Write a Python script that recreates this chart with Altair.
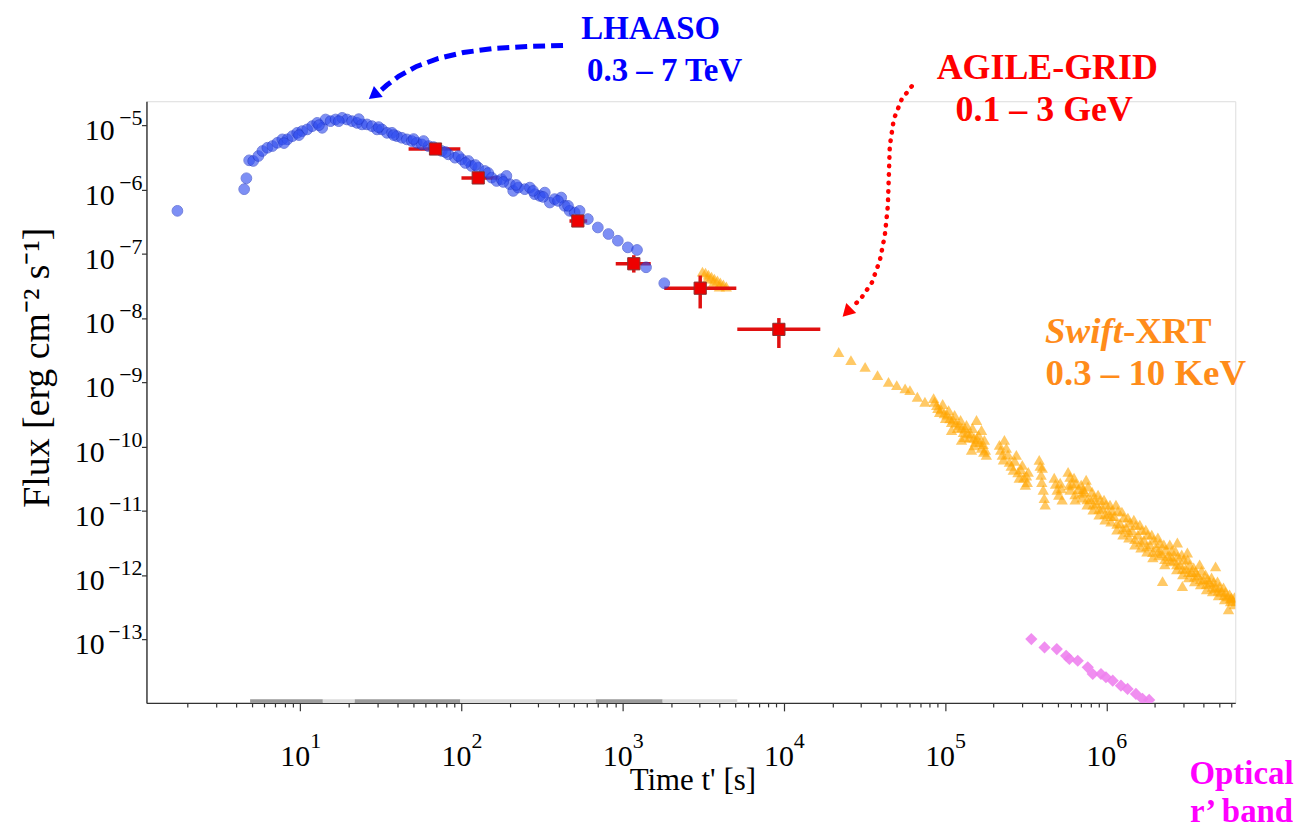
import numpy as np
import pandas as pd
import altair as alt

# ------------------------------------------------------------------
# Data: log10 values
# ------------------------------------------------------------------
# LHAASO 0.3-7 TeV (blue circles)
lhaaso_log_t = [0.238, 0.652, 0.666, 0.683, 0.708, 0.740, 0.765, 0.796, 0.827, 0.858, 0.889, 0.920,
                0.951, 0.981, 1.012, 1.043, 1.074, 1.105, 1.136, 1.157, 1.188, 1.219, 1.260, 1.290,
                1.321, 1.352, 1.383, 1.414, 1.445, 1.476, 1.507, 1.538, 1.569, 1.600, 1.630, 1.661,
                1.692, 1.723, 1.754, 1.795, 1.837, 1.878, 1.919, 1.960, 2.001, 2.043, 2.063, 2.104,
                2.146, 2.187, 2.218, 2.248, 2.279, 2.300, 2.321, 2.352, 2.393, 2.424, 2.455, 2.486,
                2.517, 2.548, 2.578, 2.619, 2.640, 2.671, 2.702, 2.733, 2.784, 2.846, 2.912, 2.970,
                3.032, 3.089, 3.145, 3.258,
                0.899, 0.992, 1.116, 1.239, 1.363, 1.486, 1.579, 1.703, 1.765, 1.826, 1.901, 1.981,
                2.024, 2.086, 2.166, 2.259, 2.339, 2.444, 2.506, 2.599, 2.661]
lhaaso_log_f = [-6.329, -5.992, -5.822, -5.543, -5.553, -5.476, -5.398, -5.347, -5.321, -5.270, -5.217, -5.217,
                -5.166, -5.115, -5.088, -5.062, -5.011, -4.960, -5.037, -4.907, -4.933, -4.907, -4.882, -4.907,
                -4.933, -4.960, -4.984, -4.984, -5.011, -5.062, -5.062, -5.115, -5.115, -5.166, -5.192, -5.217,
                -5.243, -5.270, -5.295, -5.321, -5.360, -5.398, -5.450, -5.502, -5.527, -5.553, -5.631, -5.657,
                -5.709, -5.812, -5.864, -5.837, -5.786, -5.915, -6.019, -5.967, -5.992, -5.967, -6.070, -6.096,
                -6.045, -6.200, -6.147, -6.122, -6.251, -6.329, -6.355, -6.329, -6.457, -6.588, -6.690, -6.794,
                -6.898, -6.938, -7.208, -7.456,
                -5.274, -5.150, -4.995, -4.933, -4.902, -5.026, -5.150, -5.212, -5.243, -5.336, -5.414, -5.476,
                -5.584, -5.616, -5.740, -5.879, -5.926, -6.019, -6.112, -6.174, -6.251]

# AGILE-GRID 0.1-3 GeV (red squares with error bars)
agile_log_t = [1.839, 2.104, 2.722, 3.069, 3.481, 3.969]
agile_log_t_lo = [1.672, 2.000, 2.670, 2.957, 3.258, 3.711]
agile_log_t_hi = [1.993, 2.230, 2.780, 3.174, 3.705, 4.226]
agile_log_f = [-5.367, -5.817, -6.487, -7.153, -7.533, -8.174]
agile_log_f_lo = [-5.400, -5.850, -6.520, -7.290, -7.848, -8.464]
agile_log_f_hi = [-5.330, -5.780, -6.450, -7.020, -7.336, -7.998]

# Swift-XRT 0.3-10 keV (orange triangles)
swift_log_t = [3.495, 3.514, 3.532, 3.551, 3.569, 3.588, 3.606, 3.625, 3.643, 3.526, 3.563, 3.600,
               4.340, 4.416, 4.504, 4.581, 4.649, 4.700, 4.752, 4.782, 4.828, 4.875,
               4.929, 4.948, 4.966, 4.985, 5.003, 5.022, 5.040, 5.059, 5.077, 5.096, 5.114, 5.133,
               5.151, 5.170, 5.188, 5.207, 5.226, 5.244, 5.256, 5.164, 5.102, 5.040, 5.226, 5.195,
               4.935, 4.955, 4.975, 4.995, 5.012, 5.030, 5.050, 5.068, 5.087, 5.105, 5.124, 5.142,
               5.160, 5.180, 5.198, 5.216, 5.236, 5.250, 5.120, 5.180, 5.240,
               5.337, 5.355, 5.380, 5.399, 5.423, 5.442, 5.460, 5.479, 5.498, 5.516, 5.368,
               5.345, 5.362, 5.390, 5.410, 5.432, 5.452, 5.470, 5.488, 5.505, 5.510,
               5.584, 5.596, 5.609, 5.621, 5.603, 5.590, 5.600, 5.615,
               5.677, 5.695, 5.714, 5.726, 5.685, 5.705, 5.720,
               5.763, 5.776, 5.800, 5.807, 5.844, 5.850, 5.875, 5.881, 5.912, 5.918, 5.949, 5.955,
               5.986, 5.992, 6.023, 6.029, 6.060, 6.066, 6.097, 6.103, 6.134, 6.140, 6.171, 6.177,
               6.208, 6.215, 6.245, 6.252, 6.282, 6.289, 6.320, 6.326, 6.357, 6.363, 6.394, 6.400,
               6.431, 6.437, 6.468, 6.474, 6.505, 6.511, 6.542, 6.548, 6.579, 6.585, 6.616, 6.622,
               6.653, 6.659, 6.690, 6.696, 6.727, 6.734, 6.765, 6.771, 6.795, 6.795,
               6.441, 6.503, 6.678, 6.349, 6.472, 6.758,
               5.788, 5.826, 5.863, 5.900, 5.937, 5.974, 6.011, 6.048, 6.085, 6.122, 6.159, 6.196,
               6.233, 6.270, 6.307, 6.344, 6.381, 6.418, 6.455, 6.492, 6.529, 6.566, 6.603, 6.640,
               6.677, 6.714, 6.751, 6.785,
               5.775, 5.812, 5.856, 5.887, 5.924, 5.961, 5.998, 6.035, 6.072, 6.109, 6.146, 6.183,
               6.220, 6.257, 6.294, 6.332, 6.369, 6.406, 6.443, 6.480, 6.517, 6.554, 6.591, 6.628,
               6.665, 6.702, 6.739, 6.777,
               5.769, 5.806, 5.850, 5.881, 5.918, 5.955, 5.992, 6.029, 6.066, 6.103, 6.140, 6.177,
               6.214, 6.251, 6.288, 6.326, 6.363, 6.400, 6.437, 6.474, 6.511, 6.548, 6.585, 6.622,
               6.659, 6.696, 6.733, 6.771]
swift_log_f = [-7.274, -7.290, -7.321, -7.352, -7.383, -7.414, -7.445, -7.476, -7.507, -7.383, -7.445, -7.507,
               -8.526, -8.654, -8.758, -8.887, -8.991, -9.042, -9.093, -9.119, -9.223, -9.301,
               -9.243, -9.352, -9.460, -9.336, -9.554, -9.430, -9.616, -9.507, -9.709, -9.585, -9.771, -9.662,
               -9.864, -9.709, -9.926, -9.817, -10.019, -9.895, -10.127, -10.050, -9.895, -9.740, -9.740, -9.585,
               -9.30, -9.40, -9.42, -9.48, -9.50, -9.56, -9.58, -9.63, -9.66, -9.70, -9.72, -9.79,
               -9.80, -9.86, -9.88, -9.93, -9.96, -10.05, -9.85, -9.98, -10.08,
               -9.972, -10.127, -10.019, -10.236, -10.360, -10.127, -10.484, -10.282, -10.592, -10.391, -9.895,
               -10.05, -10.20, -10.12, -10.30, -10.22, -10.40, -10.35, -10.48, -10.45, -10.55,
               -10.205, -10.437, -10.670, -10.902, -10.329, -10.30, -10.55, -10.80,
               -10.484, -10.670, -10.561, -10.825, -10.58, -10.75, -10.65,
               -10.391, -10.670, -10.484, -10.825, -10.592, -10.794, -10.515, -10.902, -10.701, -10.980, -10.747, -11.057,
               -10.825, -11.135, -10.902, -11.166, -10.902, -11.290, -11.011, -11.368, -11.104, -11.414, -11.135, -11.523,
               -11.212, -11.569, -11.290, -11.631, -11.368, -11.724, -11.414, -11.693, -11.523, -11.833, -11.523, -11.786,
               -11.631, -11.910, -11.678, -11.988, -11.755, -12.034, -11.879, -12.096, -11.833, -12.143, -11.988, -12.220,
               -12.034, -12.251, -12.096, -12.313, -12.189, -12.375, -12.298, -12.406, -12.344, -12.453,
               -11.492, -11.647, -11.864, -12.092, -12.169, -12.530,
               -10.58, -10.66, -10.70, -10.82, -10.88, -10.95, -11.03, -11.08, -11.19, -11.25, -11.30, -11.37,
               -11.45, -11.52, -11.57, -11.66, -11.70, -11.77, -11.84, -11.90, -11.95, -12.00, -12.08, -12.12,
               -12.20, -12.26, -12.33, -12.40,
               -10.47, -10.57, -10.66, -10.62, -10.78, -10.83, -10.90, -10.99, -11.00, -11.10, -11.18, -11.22,
               -11.30, -11.37, -11.45, -11.50, -11.60, -11.62, -11.71, -11.76, -11.84, -11.95, -11.93, -12.06,
               -12.11, -12.18, -12.26, -12.35,
               -10.60, -10.74, -10.72, -10.82, -10.90, -10.97, -11.05, -11.08, -11.20, -11.28, -11.33, -11.44,
               -11.48, -11.55, -11.64, -11.62, -11.75, -11.71, -11.83, -11.90, -11.95, -12.02, -12.06, -12.14,
               -12.18, -12.24, -12.31, -12.36]

# Optical r' band (violet diamonds)
optical_log_t = [5.535, 5.617, 5.693, 5.751, 5.771, 5.823, 5.885, 5.916, 5.967, 5.998, 6.040, 6.091,
                 6.132, 6.184, 6.225, 6.266]
optical_log_f = [-12.995, -13.124, -13.150, -13.254, -13.305, -13.332, -13.434, -13.538, -13.538, -13.589,
                 -13.642, -13.720, -13.771, -13.848, -13.926, -13.941]

# grey observation strips along the time axis
strip_log_t0 = [0.689, 1.140, 1.338, 1.993, 2.834, 3.248]
strip_log_t1 = [1.140, 1.338, 1.993, 2.834, 3.248, 3.711]
strip_shade = ["#9a9a9a", "#dcdcdc", "#9a9a9a", "#dcdcdc", "#9a9a9a", "#dcdcdc"]
strip_log_f = -13.962

# annotation texts (positions in log10 data coordinates)
ann_text = ["LHAASO", "0.3 – 7 TeV", "AGILE-GRID", "0.1 – 3 GeV", "0.3 – 10 KeV", "Optical", "r’ band"]
ann_log_t = [3.174, 3.260, 5.634, 5.615, 6.245, 6.839, 6.839]
ann_log_f = [-3.647, -4.313, -4.282, -4.933, -9.042, -15.250, -15.835]
ann_color = ["#0000ff", "#0000ff", "#ff0000", "#ff0000", "#ff8c1a", "#ff00ff", "#ff00ff"]
ann_size = [33, 33, 36, 36, 37, 33, 33]
swift_title_log_t = 6.103
swift_title_log_f = -8.391

# curved annotation arrows
blue_arrow_log_t = [2.630, 2.413, 2.197, 2.012, 1.857, 1.721, 1.610, 1.536, 1.486]
blue_arrow_log_f = [-3.755, -3.771, -3.802, -3.864, -3.957, -4.081, -4.236, -4.375, -4.484]
red_arrow_log_t = [4.793, 4.731, 4.682, 4.657, 4.651, 4.645, 4.626, 4.595, 4.546, 4.478, 4.422]
red_arrow_log_f = [-4.391, -4.592, -4.902, -5.321, -5.786, -6.251, -6.716, -7.104, -7.445, -7.693, -7.833]
head_log_t = [1.455, 4.391]
head_log_f = [-4.530, -7.910]
head_color = ["#0000ff", "#ff0000"]
head_angle = [231, 225]

# axes
X_DOMAIN = [10 ** 0.046, 10 ** 6.80]
Y_DOMAIN = [10 ** -13.988, 10 ** -4.623]
x_decades = [1, 2, 3, 4, 5, 6]
y_decades = [-13, -12, -11, -10, -9, -8, -7, -6, -5]

# ------------------------------------------------------------------
SERIF = "Liberation Serif"


def p10(a):
    return np.power(10.0, np.asarray(a, dtype=float))


x_tick_values = [k * 10.0 ** d for d in range(0, 7) for k in range(1, 10)
                 if X_DOMAIN[0] <= k * 10.0 ** d <= X_DOMAIN[1]]
y_tick_values = [10.0 ** d for d in y_decades]

IS_DEC = "abs(log(datum.value)/LN10 - round(log(datum.value)/LN10)) < 0.001"

xaxis = alt.Axis(
    values=x_tick_values, labels=False,
    tickSize={"condition": {"test": IS_DEC, "value": 8}, "value": 4},
    title="Time t' [s]", titleFont=SERIF, titleFontSize=31, titleFontWeight="normal",
    titleColor="black", titleX=548, titleY=78, titleBaseline="middle", titleAlign="center",
    domainColor="#333333", domainWidth=1.4, tickColor="#333333", tickWidth=1.2, grid=False,
)
yaxis = alt.Axis(
    values=y_tick_values, labels=False, tickSize=5,
    title="Flux [erg cm⁻² s⁻¹]", titleFont=SERIF, titleFontSize=38, titleFontWeight="normal",
    titleColor="black", titleX=-109, titleY=267, titleBaseline="middle", titleAlign="center",
    titleAngle=270,
    domainColor="#333333", domainWidth=1.4, tickColor="#333333", tickWidth=1.2, grid=False,
)
xscale = alt.Scale(type="log", domain=X_DOMAIN, nice=False)
yscale = alt.Scale(type="log", domain=Y_DOMAIN, nice=False)


def X(field):
    return alt.X(f"{field}:Q", scale=xscale, axis=xaxis, title="Time t' [s]")


def Y(field):
    return alt.Y(f"{field}:Q", scale=yscale, axis=yaxis, title="Flux [erg cm⁻² s⁻¹]")


# tables
lhaaso = pd.DataFrame({"t": p10(lhaaso_log_t), "flux": p10(lhaaso_log_f)})
agile = pd.DataFrame({"t": p10(agile_log_t), "t_lo": p10(agile_log_t_lo), "t_hi": p10(agile_log_t_hi),
                      "flux": p10(agile_log_f), "f_lo": p10(agile_log_f_lo), "f_hi": p10(agile_log_f_hi)})
swift = pd.DataFrame({"t": p10(swift_log_t), "flux": p10(swift_log_f)})
optical = pd.DataFrame({"t": p10(optical_log_t), "flux": p10(optical_log_f)})
strips = pd.DataFrame({"t": p10(strip_log_t0), "t1": p10(strip_log_t1),
                       "flux": [10 ** strip_log_f] * len(strip_shade), "shade": strip_shade})
ann = pd.DataFrame({"t": p10(ann_log_t), "flux": p10(ann_log_f), "text": ann_text, "c": ann_color,
                    "s": ann_size})
blue_arrow = pd.DataFrame({"t": p10(blue_arrow_log_t), "flux": p10(blue_arrow_log_f),
                           "o": list(range(len(blue_arrow_log_t)))})
red_arrow = pd.DataFrame({"t": p10(red_arrow_log_t), "flux": p10(red_arrow_log_f),
                          "o": list(range(len(red_arrow_log_t)))})
heads = pd.DataFrame({"t": p10(head_log_t), "flux": p10(head_log_f), "c": head_color, "a": head_angle})
swift_title = pd.DataFrame({"t": [10 ** swift_title_log_t], "flux": [10 ** swift_title_log_f]})

# tick label tables ("10" and its exponent drawn as separate texts, like mathtext)
xlab = pd.DataFrame({"t": [10.0 ** d for d in x_decades], "flux": [Y_DOMAIN[0]] * len(x_decades),
                     "e": [str(d) for d in x_decades]})
ylab = pd.DataFrame({"t": [X_DOMAIN[0]] * len(y_decades), "flux": [10.0 ** d for d in y_decades],
                     "e": ["−" + str(-d) for d in y_decades], "two": [d <= -10 for d in y_decades]})

# layers
strip_layer = alt.Chart(strips).mark_rule(strokeWidth=4, clip=True).encode(
    x=X("t"), x2=alt.X2("t1:Q"), y=Y("flux"), color=alt.Color("shade:N", scale=None))

swift_layer = alt.Chart(swift).mark_point(shape="triangle-up", filled=True, size=130, color="#ffa500",
                                          opacity=0.6, clip=True).encode(x=X("t"), y=Y("flux"))

err_h = alt.Chart(agile).mark_rule(color="#e01010", strokeWidth=3.5, clip=True).encode(
    x=X("t_lo"), x2=alt.X2("t_hi:Q"), y=Y("flux"))
err_v = alt.Chart(agile).mark_rule(color="#e01010", strokeWidth=3.5, clip=True).encode(
    x=X("t"), y=Y("f_lo"), y2=alt.Y2("f_hi:Q"))

lhaaso_layer = alt.Chart(lhaaso).mark_circle(size=115, color="#2f4cf0", opacity=0.62, stroke="#1f35c8",
                                             strokeWidth=1, clip=True).encode(x=X("t"), y=Y("flux"))

agile_layer = alt.Chart(agile).mark_square(size=150, color="#ee0000", opacity=1, stroke="#8a3030",
                                           strokeWidth=1, clip=True).encode(x=X("t"), y=Y("flux"))

optical_layer = alt.Chart(optical).mark_point(shape="diamond", filled=True, size=150, color="#ee82ee",
                                              opacity=0.9, clip=True).encode(x=X("t"), y=Y("flux"))

blue_arrow_layer = alt.Chart(blue_arrow).mark_line(color="#0000ff", strokeWidth=5, strokeDash=[12, 6]).encode(
    x=X("t"), y=Y("flux"), order="o:Q")
red_arrow_layer = alt.Chart(red_arrow).mark_line(color="#ff0000", strokeWidth=4.5, strokeDash=[0.5, 8],
                                                 strokeCap="round").encode(x=X("t"), y=Y("flux"), order="o:Q")
head_layer = alt.Chart(heads).mark_point(shape="triangle-up", filled=True, size=200, opacity=1).encode(
    x=X("t"), y=Y("flux"), color=alt.Color("c:N", scale=None), angle=alt.Angle("a:Q", scale=None))

ann_layer = alt.Chart(ann).mark_text(font=SERIF, fontWeight="bold", align="center",
                                     baseline="alphabetic").encode(
    x=X("t"), y=Y("flux"), text="text:N", color=alt.Color("c:N", scale=None),
    size=alt.Size("s:Q", scale=None))
swift_it = alt.Chart(swift_title).mark_text(font=SERIF, fontSize=37, fontWeight="bold", fontStyle="italic",
                                            align="right", baseline="alphabetic", color="#ff8c1a",
                                            text="Swift").encode(x=X("t"), y=Y("flux"))
swift_rest = alt.Chart(swift_title).mark_text(font=SERIF, fontSize=37, fontWeight="bold",
                                              align="left", baseline="alphabetic", color="#ff8c1a",
                                              text="-XRT").encode(x=X("t"), y=Y("flux"))

# tick labels
x_ten = alt.Chart(xlab).mark_text(font=SERIF, fontSize=30, align="center", baseline="alphabetic",
                                  dx=-5, dy=63, color="black", text="10").encode(x=X("t"), y=Y("flux"))
x_exp = alt.Chart(xlab).mark_text(font=SERIF, fontSize=22, align="left", baseline="alphabetic",
                                  dx=10, dy=45, color="black").encode(x=X("t"), y=Y("flux"), text="e:N")
y_ten1 = alt.Chart(ylab).transform_filter("!datum.two").mark_text(
    font=SERIF, fontSize=30, align="right", baseline="alphabetic", dx=-32, dy=15, color="black",
    text="10").encode(x=X("t"), y=Y("flux"))
y_ten2 = alt.Chart(ylab).transform_filter("datum.two").mark_text(
    font=SERIF, fontSize=30, align="right", baseline="alphabetic", dx=-42, dy=15, color="black",
    text="10").encode(x=X("t"), y=Y("flux"))
y_exp = alt.Chart(ylab).mark_text(font=SERIF, fontSize=22, align="right", baseline="alphabetic",
                                  dx=-4, dy=0, color="black").encode(x=X("t"), y=Y("flux"), text="e:N")

chart = alt.layer(
    strip_layer, swift_layer, err_h, err_v, lhaaso_layer, agile_layer, optical_layer,
    blue_arrow_layer, red_arrow_layer, head_layer, ann_layer, swift_it, swift_rest,
    x_ten, x_exp, y_ten1, y_ten2, y_exp,
).properties(
    width=1093, height=604,
    autosize=alt.AutoSizeParams(type="none"),
    padding={"left": 139, "top": 92, "right": 66, "bottom": 124},
).configure_view(stroke=None).configure(background="white")

chart.save("out.html", embed_options={"renderer": "svg", "actions": False})
